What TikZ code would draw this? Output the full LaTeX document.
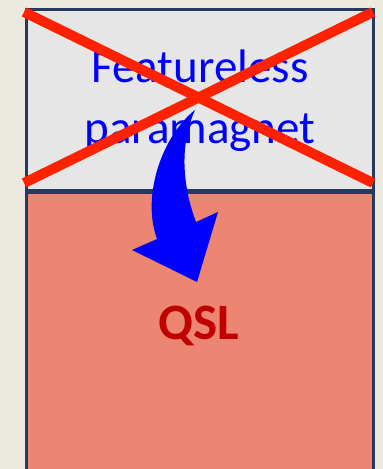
\documentclass[tikz,border=0pt]{standalone}
\usepackage{fontspec}
\setmainfont{Carlito}
\usetikzlibrary{positioning}
\definecolor{paper}{HTML}{ECEAE0}
\definecolor{frame}{HTML}{253A5C}
\definecolor{topfill}{HTML}{E6E6E6}
\definecolor{salmon}{HTML}{EC8572}
\definecolor{crossred}{HTML}{FF2100}
\definecolor{qslred}{HTML}{C00000}
\tikzset{
  block/.style={draw=frame, line width=2.5pt, inner sep=0pt, minimum width=347pt},
  phase/.style={text=blue, inner sep=0pt, anchor=base, font=\fontsize{47}{56}\selectfont},
  cross/.style={draw=crossred, line width=10pt},
  bend arrow/.style={fill=blue, draw=none}
}

\begin{document}
\begin{tikzpicture}[x=1pt,y=-1pt]
    \fill[paper] (0,0) rectangle (383,469);
    \useasboundingbox (0,0) rectangle (383,469);

    \node[block, fill=topfill, minimum height=181pt, anchor=north west] (para) at (25,8) {};
    \node[block, fill=salmon, minimum height=279pt, below=0pt of para] (qsl) {};

    \node[phase] (feat) at (200,82) {Featureless};
    \node[phase] (pm) at (200,143) {paramagnet};
    \node[text=qslred, inner sep=0pt, anchor=base, font=\bfseries\fontsize{51}{60}\selectfont] (qsllabel) at (199,339) {QSL};

    % curved arrow from the crossed-out phase down into the QSL
    \coordinate (tail) at (195,110);
    \coordinate (tip) at (197,282);
    \fill[bend arrow] (tail) .. controls (163,135) and (141,195) .. (157,239)
      -- (132,250) -- (tip) -- (218,212) -- (196,222)
      .. controls (184,190) and (178,148) .. (tail) -- cycle;

    \coordinate (c1) at (24,12); \coordinate (c2) at (373,183);
    \coordinate (c3) at (24,183); \coordinate (c4) at (373,12);
    \draw[cross] (c1) -- (c2);
    \draw[cross] (c3) -- (c4);
\end{tikzpicture}
\end{document}
